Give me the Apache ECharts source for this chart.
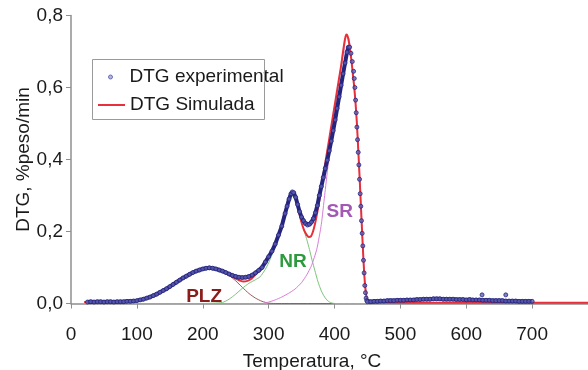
<!DOCTYPE html>
<html>
<head>
<meta charset="utf-8">
<script src="https://cdn.jsdelivr.net/npm/echarts@6/dist/echarts.min.js"></script>
<style>html,body{margin:0;padding:0;background:#fff}#c{width:588px;height:370px}</style>
</head>
<body>
<div id="c"></div>
<script>
// ---- data ----
const xTicks = [0, 100, 200, 300, 400, 500, 600, 700];
const yTicks = ['0,0', '0,2', '0,4', '0,6', '0,8'];

const expT = [25,30,35,40,45,50,55,60,65,70,75,80,85,90,95,100,105,110,115,120,125,130,135,140,145,150,155,160,165,170,175,180,185,190,195,200,205,210,215,220,225,230,235,240,245,250,255,260,265,270,275,280,285,290,295,300,305,310,315,320,325,328,331,334,336,338,341,344,347,350,353,356,359,362,365,368,371,374,377,380,383,386,389,392,395,398,401,404,407,410,413,416,419,421,423,425,427,429,430,431,432,433,434,435,436,437,438,439,440,441,442,443,444,445,446,447,448,449,450,455,460,465,470,475,480,485,490,495,500,505,510,515,520,525,530,535,540,545,550,555,560,565,570,575,580,585,590,595,600,605,610,615,620,625,630,635,640,645,650,655,660,665,670,675,680,685,690,695,700];
const expV = [0.004,0.005,0.004,0.005,0.005,0.004,0.005,0.005,0.004,0.005,0.005,0.005,0.006,0.006,0.007,0.008,0.010,0.012,0.015,0.018,0.022,0.026,0.031,0.036,0.041,0.047,0.053,0.059,0.065,0.071,0.076,0.081,0.086,0.090,0.093,0.096,0.098,0.099,0.098,0.096,0.093,0.090,0.086,0.082,0.078,0.075,0.073,0.072,0.073,0.075,0.079,0.085,0.092,0.100,0.115,0.130,0.145,0.165,0.190,0.215,0.250,0.270,0.290,0.305,0.310,0.308,0.295,0.275,0.255,0.240,0.230,0.222,0.218,0.220,0.226,0.236,0.252,0.272,0.300,0.325,0.350,0.375,0.398,0.424,0.451,0.480,0.510,0.542,0.574,0.606,0.638,0.668,0.698,0.712,0.712,0.695,0.672,0.645,0.625,0.600,0.565,0.530,0.490,0.455,0.420,0.385,0.345,0.305,0.270,0.230,0.195,0.160,0.120,0.085,0.050,0.030,0.015,0.008,0.005,0.005,0.006,0.006,0.007,0.007,0.008,0.008,0.008,0.009,0.009,0.009,0.010,0.010,0.010,0.011,0.011,0.012,0.012,0.012,0.013,0.013,0.013,0.012,0.012,0.012,0.012,0.011,0.011,0.011,0.010,0.011,0.010,0.010,0.010,0.009,0.009,0.009,0.008,0.008,0.008,0.008,0.007,0.007,0.007,0.007,0.006,0.006,0.006,0.006,0.006];
const outT = [624, 660];
const outV = [0.024, 0.024];

const simT = [20,40,60,80,100,110,120,130,140,150,160,170,180,190,200,210,220,230,240,250,256,262,268,274,280,286,292,298,304,310,316,322,328,332,335,338,342,346,350,354,358,361,364,367,370,374,378,382,386,390,394,398,402,406,410,413,416,418,420,422,424,426,428,430,432,434,436,438,440,442,444,446,448,450,452,460,500,600,700,800];
const simV = [0.004,0.004,0.004,0.005,0.008,0.012,0.018,0.026,0.036,0.047,0.059,0.071,0.082,0.091,0.097,0.099,0.096,0.089,0.079,0.069,0.064,0.061,0.063,0.069,0.080,0.094,0.110,0.126,0.143,0.165,0.195,0.235,0.275,0.300,0.310,0.305,0.285,0.255,0.225,0.203,0.190,0.185,0.186,0.198,0.218,0.255,0.298,0.345,0.390,0.435,0.480,0.525,0.570,0.615,0.660,0.700,0.735,0.747,0.742,0.725,0.700,0.670,0.635,0.600,0.555,0.500,0.430,0.355,0.275,0.195,0.120,0.060,0.025,0.008,0.003,0.002,0.002,0.002,0.002,0.002];

const plzT = [20,60,100,120,140,160,180,200,210,220,230,240,250,260,270,280,290,300,310,800];
const plzV = [0.003,0.004,0.008,0.018,0.036,0.059,0.082,0.097,0.099,0.096,0.089,0.078,0.063,0.045,0.028,0.015,0.006,0.001,0.000,0.000];

const nrT = [20,200,230,240,250,260,270,280,287,295,300,305,310,315,320,325,330,335,340,345,350,355,358,362,366,370,375,380,385,390,395,400,800];
const nrV = [0,0,0.003,0.012,0.026,0.042,0.056,0.066,0.074,0.095,0.113,0.135,0.160,0.190,0.225,0.260,0.288,0.300,0.290,0.260,0.225,0.195,0.177,0.150,0.120,0.093,0.060,0.035,0.018,0.007,0.002,0,0];

const srT = [20,290,300,310,320,330,340,350,358,365,373,380,385,390,395,400,405,410,414,418,422,426,430,434,438,442,446,450,455,800];
const srV = [0,0,0.004,0.010,0.018,0.028,0.040,0.058,0.080,0.105,0.150,0.220,0.300,0.380,0.460,0.530,0.600,0.660,0.700,0.745,0.735,0.680,0.600,0.500,0.355,0.195,0.060,0.008,0.001,0];

const compNames = ['PLZ', 'NR', 'SR'];
const compLabelPos = [[202, 0.018], [337, 0.115], [408, 0.255]];
const edgeLine = [[700, -0.006], [700, 0.115]];

const zip = (a, b) => a.map((t, i) => [t, b[i]]);
// band part of the experimental curve: broken over the steep fall where only dots show
const bandData = expT.map((t, i) => [t, (t > 423 && t < 449) ? null : expV[i]]);

const chart = echarts.init(document.getElementById('c'), null, {renderer: 'canvas'});
const FONT = 'Liberation Sans, Arial, sans-serif';
const FS = 19;

function labelMark(name, pos, color) {
  return {
    symbol: 'rect', symbolSize: 1, silent: true,
    itemStyle: {color: 'rgba(0,0,0,0)'},
    label: {show: true, position: 'inside', formatter: name, color: color,
      fontWeight: 'bold', fontSize: FS, fontFamily: FONT},
    data: [{coord: pos}]
  };
}

const NAVY = '#25257f';

chart.setOption({
  animation: false,
  backgroundColor: '#ffffff',
  grid: {left: 71, right: -10, top: 15.5, bottom: 66.5, containLabel: false, outerBoundsMode: 'none'},
  xAxis: {
    type: 'value', min: 0, max: 800, interval: 100,
    name: 'Temperatura, °C', nameLocation: 'middle', nameGap: 48.5, nameMoveOverlap: false,
    nameTextStyle: {fontSize: FS, color: '#1a1a1a', fontFamily: FONT, padding: [0, 45, 0, 0]},
    axisLine: {lineStyle: {color: '#8f8f8f', width: 1.5}},
    axisTick: {show: true, length: 5, lineStyle: {color: '#8f8f8f'}},
    axisLabel: {fontSize: FS, color: '#1a1a1a', fontFamily: FONT, margin: 22,
      formatter: v => (xTicks.indexOf(v) >= 0 ? String(v) : '')},
    splitLine: {show: false}
  },
  yAxis: {
    type: 'value', min: 0, max: 0.8, interval: 0.2,
    name: 'DTG, %peso/min', nameLocation: 'middle', nameGap: 37.5, nameMoveOverlap: false,
    nameTextStyle: {fontSize: FS, color: '#1a1a1a', fontFamily: FONT},
    axisLine: {show: true, lineStyle: {color: '#8f8f8f', width: 1.5}},
    axisTick: {show: true, length: 5, lineStyle: {color: '#8f8f8f'}},
    axisLabel: {fontSize: FS, color: '#1a1a1a', fontFamily: FONT, margin: 8,
      formatter: v => yTicks[Math.round(v / 0.2)]},
    splitLine: {show: false}
  },
  legend: [
    {data: [{name: 'DTG experimental', icon: 'circle', itemStyle: {color: '#b4b4e0', borderColor: '#6c6cc0', borderWidth: 1}}],
     left: 108, top: 67.5, itemWidth: 4, itemHeight: 4, padding: 0,
     textStyle: {fontSize: FS, color: '#1a1a1a', fontFamily: FONT, padding: [0, 0, 0, 12]}},
    {data: [{name: 'DTG Simulada', icon: 'rect'}], left: 98, top: 95.5, itemWidth: 27, itemHeight: 2, padding: 0,
     textStyle: {fontSize: FS, color: '#1a1a1a', fontFamily: FONT}}
  ],
  graphic: [{type: 'rect', left: 92, top: 59, shape: {width: 172, height: 60},
    style: {fill: 'rgba(0,0,0,0)', stroke: '#9a9a9a', lineWidth: 1}, silent: true, z: 100}],
  series: [
    {name: 'PLZ', type: 'line', data: zip(plzT, plzV), showSymbol: false, symbol: 'none', smooth: 0.2,
     lineStyle: {color: '#a05858', width: 1}, z: 2, markPoint: labelMark('PLZ', compLabelPos[0], '#8b1c1c')},
    {name: 'NR', type: 'line', data: zip(nrT, nrV), showSymbol: false, symbol: 'none', smooth: 0.2,
     lineStyle: {color: '#7cc47c', width: 1}, z: 2, markPoint: labelMark('NR', compLabelPos[1], '#2e9a3e')},
    {name: 'SR', type: 'line', data: zip(srT, srV), showSymbol: false, symbol: 'none', smooth: 0.2,
     lineStyle: {color: '#d77fd7', width: 1}, z: 2, markPoint: labelMark('SR', compLabelPos[2], '#a358b3')},
    {name: 'DTG Simulada', type: 'line', data: zip(simT, simV), symbol: 'none', smooth: 0.3,
     lineStyle: {color: '#e8303a', width: 2}, itemStyle: {color: '#e8303a'}, z: 3},
    {name: 'DTG experimental', type: 'line', data: bandData, showSymbol: false, symbol: 'none',
     lineStyle: {color: NAVY, width: 4}, itemStyle: {color: NAVY}, z: 4,
     markLine: {silent: true, symbol: 'none', label: {show: false},
       lineStyle: {color: '#8f8f8f', width: 1, type: 'solid'},
       data: [[{coord: edgeLine[0]}, {coord: edgeLine[1]}]]}},
    {name: 'DTG experimental', type: 'scatter', data: zip(expT, expV).concat(zip(outT, outV)),
     symbol: 'circle', symbolSize: 4, itemStyle: {color: '#6060b4', borderColor: '#25257f', borderWidth: 1}, z: 5}
  ]
});
</script>
</body>
</html>
